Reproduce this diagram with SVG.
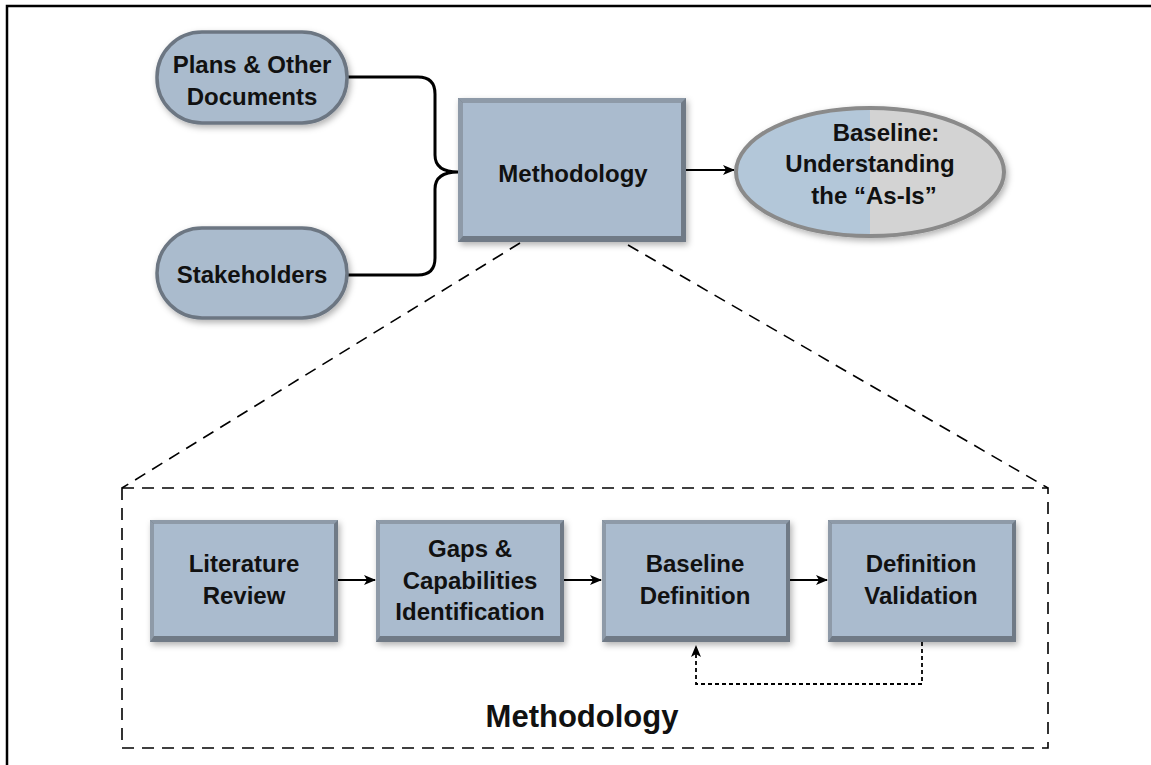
<svg xmlns="http://www.w3.org/2000/svg" width="1151" height="765" viewBox="0 0 1151 765">
<style>
.t{font-family:"Liberation Sans",Arial,sans-serif;font-weight:bold;font-size:24px;fill:#111;text-anchor:middle}
.pill{fill:#aabbcd;stroke:#6c7682;stroke-width:3.5}
.bo{fill:#6f7a86}
.bi{fill:#aabbce}
.bt{fill:#8e9aa8}
.con{fill:none;stroke:#000;stroke-width:2}
.dash{fill:none;stroke:#000;stroke-width:1.6;stroke-dasharray:12,8}
</style>
<defs>
<filter id="sh" x="-10%" y="-10%" width="125%" height="130%">
<feDropShadow dx="2" dy="3" stdDeviation="3" flood-color="#000" flood-opacity="0.3"/>
</filter>
<linearGradient id="half" x1="0" y1="0" x2="1" y2="0">
<stop offset="0.5" stop-color="#b3c7d9"/>
<stop offset="0.5" stop-color="#d3d3d3"/>
</linearGradient>
<marker id="ah" markerWidth="12" markerHeight="10" refX="11" refY="5" orient="auto" markerUnits="userSpaceOnUse">
<path d="M0,0 L12,5 L0,10 L3,5 Z" fill="#000"/>
</marker>
</defs>
<g id="frame">
<path d="M7,765 V6 H1151" fill="none" stroke="#000" stroke-width="2.5"/>
</g>
<g id="connectors">
<path d="M347,77 H418 Q435,77 435,94 V155 Q435,172 458,172 Q435,172 435,189 V258 Q435,275 418,275 H347" fill="none" stroke="#000" stroke-width="3"/>
<path class="con" d="M686,170 H734" marker-end="url(#ah)"/>
<path class="dash" d="M520,243 L122,488"/>
<path class="dash" d="M628,245 L1048,488"/>
<path class="con" d="M338,580 H375" marker-end="url(#ah)"/>
<path class="con" d="M564,580 H601" marker-end="url(#ah)"/>
<path class="con" d="M790,580 H827" marker-end="url(#ah)"/>
<path d="M922,642 V684 H696 V646" fill="none" stroke="#000" stroke-width="1.8" stroke-dasharray="4,3" marker-end="url(#ah)"/>
</g>
<g id="detail-frame">
<rect x="122" y="488" width="926" height="260" class="dash"/>
<text class="t" x="582" y="727" style="font-size:31px">Methodology</text>
</g>
<g id="plans">
<rect x="157" y="32" width="190" height="91" rx="45" class="pill" filter="url(#sh)"/>
<text class="t" x="252" y="73">Plans &amp; Other</text>
<text class="t" x="252" y="105">Documents</text>
</g>
<g id="stakeholders">
<rect x="157" y="228" width="190" height="90" rx="45" class="pill" filter="url(#sh)"/>
<text class="t" x="252" y="283">Stakeholders</text>
</g>
<g id="methodology">
<g filter="url(#sh)">
<rect x="458" y="98" width="228" height="144" class="bo"/>
<polygon points="458,98 686,98 681,103 463,103" class="bt"/>
<polygon points="458,98 463,103 463,236 458,242" class="bt"/>
<rect x="463" y="103" width="218" height="133" class="bi"/>
</g>
<text class="t" x="573" y="182">Methodology</text>
</g>
<g id="baseline">
<ellipse cx="870" cy="172" rx="134" ry="64" fill="url(#half)" stroke="#8a8a8a" stroke-width="4" filter="url(#sh)"/>
<text class="t" x="886" y="141">Baseline:</text>
<text class="t" x="870" y="172">Understanding</text>
<text class="t" x="874" y="204">the “As-Is”</text>
</g>
<g id="literature">
<g filter="url(#sh)">
<rect x="150" y="520" width="188" height="122" class="bo"/>
<polygon points="150,520 338,520 334,524 154,524" class="bt"/>
<polygon points="150,520 154,524 154,636 150,642" class="bt"/>
<rect x="154" y="524" width="180" height="112" class="bi"/>
</g>
<text class="t" x="244" y="572">Literature</text>
<text class="t" x="244" y="604">Review</text>
</g>
<g id="gaps">
<g filter="url(#sh)">
<rect x="376" y="520" width="188" height="122" class="bo"/>
<polygon points="376,520 564,520 560,524 380,524" class="bt"/>
<polygon points="376,520 380,524 380,636 376,642" class="bt"/>
<rect x="380" y="524" width="180" height="112" class="bi"/>
</g>
<text class="t" x="470" y="557">Gaps &amp;</text>
<text class="t" x="470" y="589">Capabilities</text>
<text class="t" x="470" y="620">Identification</text>
</g>
<g id="baseline-def">
<g filter="url(#sh)">
<rect x="602" y="520" width="188" height="122" class="bo"/>
<polygon points="602,520 790,520 786,524 606,524" class="bt"/>
<polygon points="602,520 606,524 606,636 602,642" class="bt"/>
<rect x="606" y="524" width="180" height="112" class="bi"/>
</g>
<text class="t" x="695" y="572">Baseline</text>
<text class="t" x="695" y="604">Definition</text>
</g>
<g id="validation">
<g filter="url(#sh)">
<rect x="828" y="520" width="188" height="122" class="bo"/>
<polygon points="828,520 1016,520 1012,524 832,524" class="bt"/>
<polygon points="828,520 832,524 832,636 828,642" class="bt"/>
<rect x="832" y="524" width="180" height="112" class="bi"/>
</g>
<text class="t" x="921" y="572">Definition</text>
<text class="t" x="921" y="604">Validation</text>
</g>
</svg>
